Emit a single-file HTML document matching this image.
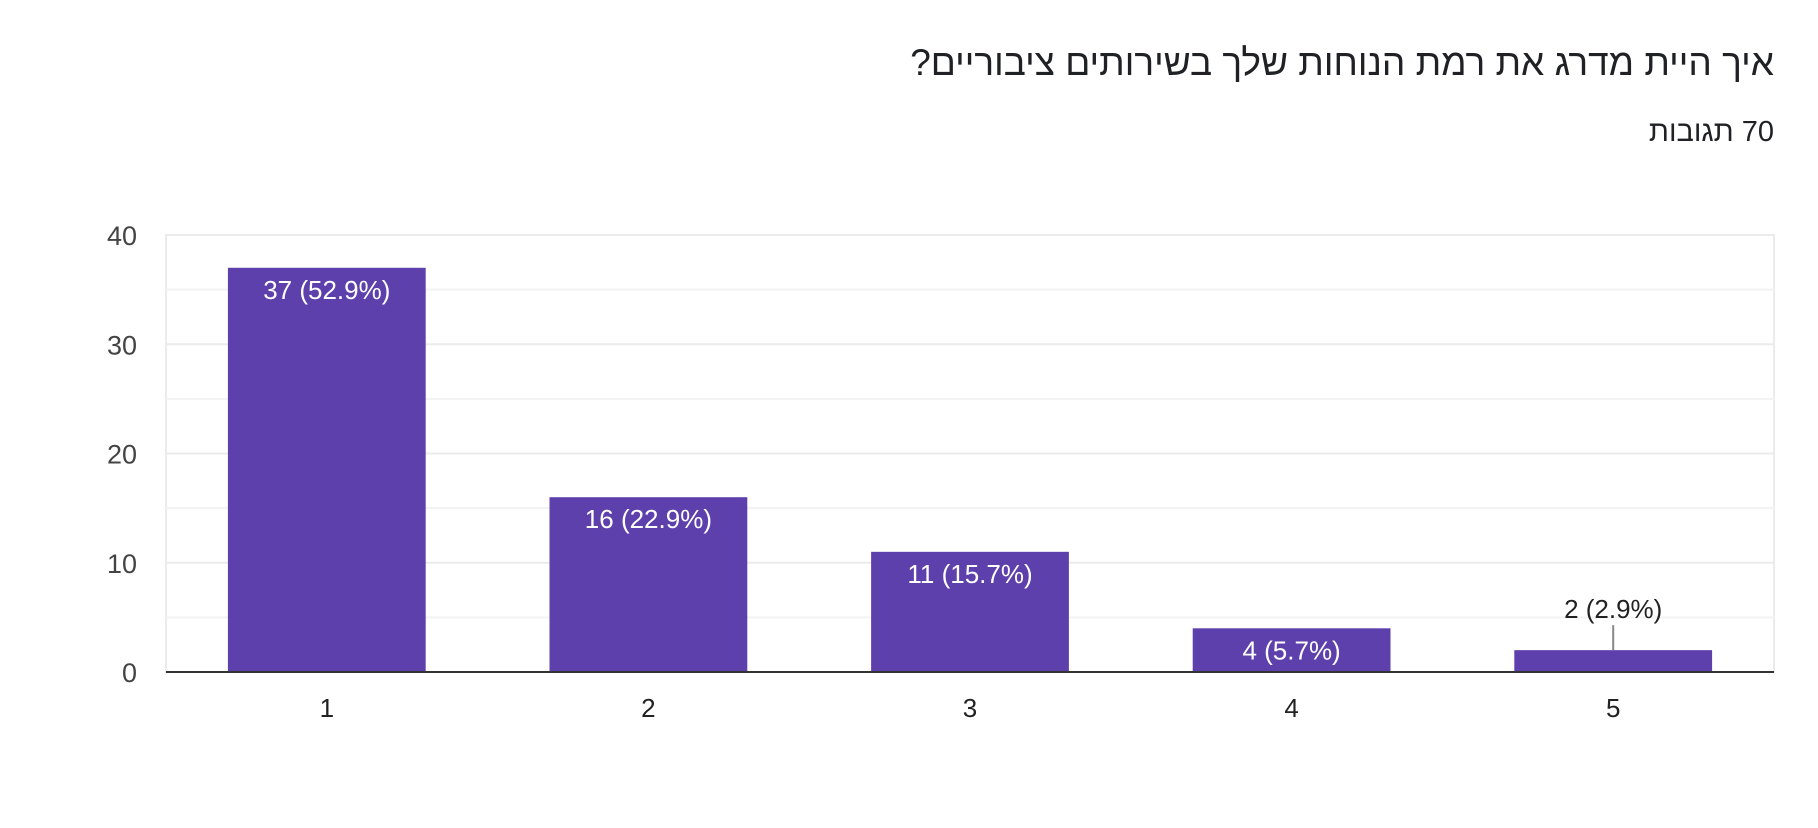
<!DOCTYPE html>
<html><head><meta charset="utf-8">
<style>
html,body{margin:0;padding:0;background:#fff;width:1818px;height:828px;overflow:hidden;position:relative;}
svg{display:block;font-family:"Liberation Sans","Noto Sans CJK SC",sans-serif;}
.t{position:absolute;right:44px;direction:rtl;font-family:"Liberation Sans","Noto Sans CJK SC",sans-serif;color:#202124;white-space:nowrap;}
</style></head>
<body>
<svg id="chart" width="1818" height="828">
<g id="grid"></g><g id="bars"></g><g id="axes"></g>
</svg>
<div class="t" style="top:42px;font-size:37px;">איך היית מדרג את רמת הנוחות שלך בשירותים ציבוריים?</div>
<div class="t" style="top:116px;font-size:29px;">70 תגובות</div>
<script>
const categories = ["1","2","3","4","5"];
const values = [37,16,11,4,2];
const valueLabels = ["37 (52.9%)","16 (22.9%)","11 (15.7%)","4 (5.7%)","2 (2.9%)"];
const yTicks = [0,10,20,30,40];
const yGrid = [0,5,10,15,20,25,30,35,40];
const yMax = 40;

const NS="http://www.w3.org/2000/svg";
const L=166,R=1774,T=235,B=672;
const band=(R-L)/categories.length;
const barW=band*0.615;
const y=v=>B-(v/yMax)*(B-T);
const xc=i=>L+band*(i+0.5);
function mk(tag,attrs,parent,text){const e=document.createElementNS(NS,tag);for(const k in attrs)e.setAttribute(k,attrs[k]);if(text!==undefined)e.textContent=text;parent.appendChild(e);return e;}
const grid=document.getElementById('grid'),bars=document.getElementById('bars'),axes=document.getElementById('axes');
mk('rect',{x:L,y:T,width:R-L,height:B-T,fill:'none',stroke:'#ebebeb','stroke-width':2},grid);
yGrid.forEach(v=>{const g=mk('line',{x1:L,x2:R,y1:y(v),y2:y(v),stroke:v%10===0?'#ebebeb':'#f3f3f3','stroke-width':2},grid);

});
yTicks.forEach(v=>{const t=mk('text',{x:137,y:y(v)+10,'text-anchor':'end','font-size':27,fill:'#444'},axes,String(v));

});
categories.forEach((c,i)=>{
 const top=y(values[i]);
 const r=mk('rect',{x:xc(i)-barW/2,y:top,width:barW,height:B-top,fill:'#5e40ad'},bars);
 
 
 const h=B-top;
 if(h>36){
  const t=mk('text',{x:xc(i),y:top+31,'text-anchor':'middle','font-size':26,fill:'#fff'},bars,valueLabels[i]);
  
  
 } else {
  const ln=mk('line',{x1:xc(i),x2:xc(i),y1:top-25,y2:top,stroke:'#888','stroke-width':2},bars);
  
  
  const t=mk('text',{x:xc(i),y:top-32,'text-anchor':'middle','font-size':26,fill:'#222'},bars,valueLabels[i]);
  
  
 }
 const xl=mk('text',{x:xc(i),y:717,'text-anchor':'middle','font-size':26,fill:'#222'},axes,c);
 
 
});
const base=mk('line',{x1:L,x2:R,y1:B,y2:B,stroke:'#333','stroke-width':2},axes);


</script>
</body></html>
